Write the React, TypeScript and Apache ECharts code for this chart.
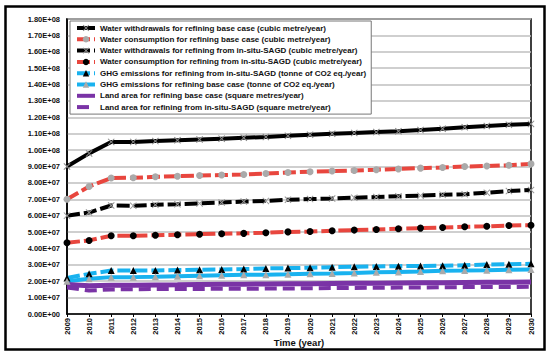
import React, { useEffect, useRef } from "react";
import * as echarts from "echarts";

const years = ["2009","2010","2011","2012","2013","2014","2015","2016","2017","2018","2019","2020","2021","2022","2023","2024","2025","2026","2027","2028","2029","2030"];

const waterWithdrawalBase = [9.0e7, 9.8e7, 1.05e8, 1.05e8, 1.055e8, 1.06e8, 1.065e8, 1.07e8, 1.075e8, 1.08e8, 1.087e8, 1.094e8, 1.1e8, 1.105e8, 1.11e8, 1.115e8, 1.122e8, 1.13e8, 1.14e8, 1.147e8, 1.154e8, 1.16e8];
const waterConsBase = [7.0e7, 7.78e7, 8.3e7, 8.31e7, 8.37e7, 8.41e7, 8.45e7, 8.48e7, 8.51e7, 8.57e7, 8.63e7, 8.68e7, 8.72e7, 8.76e7, 8.8e7, 8.85e7, 8.9e7, 8.94e7, 9.0e7, 9.03e7, 9.08e7, 9.16e7];
const waterWithdrawalSAGD = [6.0e7, 6.19e7, 6.62e7, 6.6e7, 6.66e7, 6.7e7, 6.75e7, 6.8e7, 6.86e7, 6.9e7, 6.97e7, 7.01e7, 7.05e7, 7.1e7, 7.14e7, 7.18e7, 7.22e7, 7.27e7, 7.31e7, 7.4e7, 7.5e7, 7.57e7];
const waterConsSAGD = [4.35e7, 4.49e7, 4.77e7, 4.77e7, 4.81e7, 4.84e7, 4.87e7, 4.9e7, 4.92e7, 4.96e7, 5.01e7, 5.03e7, 5.08e7, 5.12e7, 5.16e7, 5.2e7, 5.24e7, 5.28e7, 5.32e7, 5.35e7, 5.4e7, 5.42e7];
const ghgSAGD = [2.2e7, 2.45e7, 2.65e7, 2.65e7, 2.66e7, 2.68e7, 2.7e7, 2.72e7, 2.74e7, 2.78e7, 2.8e7, 2.82e7, 2.86e7, 2.88e7, 2.9e7, 2.92e7, 2.93e7, 2.94e7, 2.98e7, 3.02e7, 3.04e7, 3.06e7];
const ghgBase = [2.0e7, 2.15e7, 2.25e7, 2.25e7, 2.27e7, 2.3e7, 2.33e7, 2.36e7, 2.39e7, 2.4e7, 2.42e7, 2.45e7, 2.47e7, 2.5e7, 2.54e7, 2.57e7, 2.6e7, 2.64e7, 2.65e7, 2.67e7, 2.7e7, 2.71e7];
const landBase = [1.8e7, 1.72e7, 1.75e7, 1.76e7, 1.77e7, 1.78e7, 1.8e7, 1.81e7, 1.82e7, 1.83e7, 1.84e7, 1.85e7, 1.86e7, 1.87e7, 1.88e7, 1.89e7, 1.9e7, 1.91e7, 1.92e7, 1.93e7, 1.94e7, 1.95e7];
const landSAGD = [1.62e7, 1.43e7, 1.5e7, 1.51e7, 1.52e7, 1.53e7, 1.53e7, 1.54e7, 1.54e7, 1.55e7, 1.56e7, 1.57e7, 1.58e7, 1.59e7, 1.6e7, 1.61e7, 1.62e7, 1.63e7, 1.64e7, 1.65e7, 1.65e7, 1.66e7];

const seriesNames = [
  "Water withdrawals for refining base case (cubic metre/year)",
  "Water consumption for refining base case (cubic metre/year)",
  "Water withdrawals for refining from in-situ-SAGD (cubic metre/year)",
  "Water consumption for refining from in-situ-SAGD (cubic metre/year)",
  "GHG emissions for refining from in-situ-SAGD (tonne of CO2 eq./year)",
  "GHG emissions for refining base case (tonne of CO2 eq./year)",
  "Land area for refining base case (square metres/year)",
  "Land area for refining from in-situ-SAGD (square metre/year)",
];

const FONT = "'Liberation Sans', Arial, sans-serif";
const RED = "#e8463e";
const BLUE = "#19b2ef";
const PURPLE = "#7a33a6";
const X_SYMBOL = "path://M0,1 L1,0 L5,4 L9,0 L10,1 L6,5 L10,9 L9,10 L5,6 L1,10 L0,9 L4,5 Z";

function fmt(v: number): string {
  if (v === 0) return "0.00E+00";
  const e = Math.floor(Math.log10(v) + 1e-9);
  const m = v / Math.pow(10, e);
  return m.toFixed(2) + "E+" + String(e).padStart(2, "0");
}

export default function App() {
  const ref = useRef<HTMLDivElement>(null);
  useEffect(() => {
    if (!ref.current) return;
    const chart = echarts.init(ref.current, undefined, { renderer: "svg" });
    const mk = (
      name: string,
      data: number[],
      color: string,
      width: number,
      dash: any,
      symbol: string,
      symColor: string,
      symSize: number
    ) => ({
      type: "line",
      name,
      data,
      symbol,
      symbolSize: symSize,
      showSymbol: symbol !== "none",
      lineStyle: { color, width, type: dash },
      itemStyle: { color: symColor, borderWidth: 0 },
      color,
    });
    const legendData = seriesNames.map((n, i) =>
      i >= 6 ? { name: n, itemStyle: { opacity: 0 } } : { name: n }
    );
    chart.setOption({
      animation: false,
      backgroundColor: "#ffffff",
      textStyle: { fontFamily: FONT },
      grid: {
        left: 67,
        right: 19,
        top: 19,
        bottom: 42,
        show: true,
        borderColor: "#000",
        borderWidth: 1.5,
        backgroundColor: "transparent",
      },
      legend: {
        orient: "vertical",
        left: 70,
        top: 21,
        padding: [3, 5, 3, 5],
        itemWidth: 18,
        itemHeight: 8,
        itemGap: 3.3,
        backgroundColor: "#fff",
        borderColor: "#777",
        borderWidth: 1,
        lineStyle: { width: 4 },
        textStyle: { fontFamily: FONT, fontWeight: "bold", fontSize: 8, color: "#111", lineHeight: 8 },
        data: legendData,
      },
      xAxis: {
        type: "category",
        data: years,
        boundaryGap: false,
        axisLine: { lineStyle: { color: "#000", width: 1.5 } },
        axisTick: { show: true, length: 3, lineStyle: { color: "#000" } },
        axisLabel: { rotate: 90, fontFamily: FONT, fontWeight: "bold", fontSize: 7.5, color: "#111", margin: 4, interval: 0 },
        splitLine: { show: false },
        name: "Time (year)",
        nameLocation: "middle",
        nameGap: 23,
        nameMoveOverlap: false,
        nameTextStyle: { fontFamily: FONT, fontWeight: "bold", fontSize: 9.5, color: "#111" },
      },
      yAxis: {
        type: "value",
        min: 0,
        max: 1.8e8,
        interval: 1e7,
        axisLine: { show: true, lineStyle: { color: "#000", width: 1.5 } },
        axisTick: { show: false },
        axisLabel: { formatter: fmt, fontFamily: FONT, fontWeight: "bold", fontSize: 7.5, color: "#111", margin: 7 },
        splitLine: { show: true, lineStyle: { color: "#bfbfbf", width: 1.5 } },
      },
      graphic: [
        {
          type: "rect",
          shape: { x: 5.5, y: 6.5, width: 539, height: 343 },
          style: { fill: "none", stroke: "#000", lineWidth: 2.5 },
          silent: true,
          z: 100,
        },
      ],
      series: [
        mk(seriesNames[0], waterWithdrawalBase, "#000", 4, "solid", X_SYMBOL, "#888", 7),
        mk(seriesNames[1], waterConsBase, RED, 4, [13, 4], "circle", "#aaaaaa", 7),
        mk(seriesNames[2], waterWithdrawalSAGD, "#000", 4, [13, 4], X_SYMBOL, "#999", 7),
        mk(seriesNames[3], waterConsSAGD, RED, 4, [13, 4], "circle", "#000", 7),
        mk(seriesNames[4], ghgSAGD, BLUE, 4, [13, 4], "triangle", "#000", 7),
        mk(seriesNames[5], ghgBase, BLUE, 4, "solid", "triangle", "#aaaaaa", 7),
        mk(seriesNames[6], landBase, PURPLE, 5, "solid", "none", PURPLE, 0),
        mk(seriesNames[7], landSAGD, PURPLE, 4, [12, 6], "none", PURPLE, 0),
      ],
    });
    return () => chart.dispose();
  }, []);
  return (
    <div
      ref={ref}
      style={{ position: "fixed", left: 0, top: 0, width: 550, height: 356, background: "#fff" }}
    />
  );
}
